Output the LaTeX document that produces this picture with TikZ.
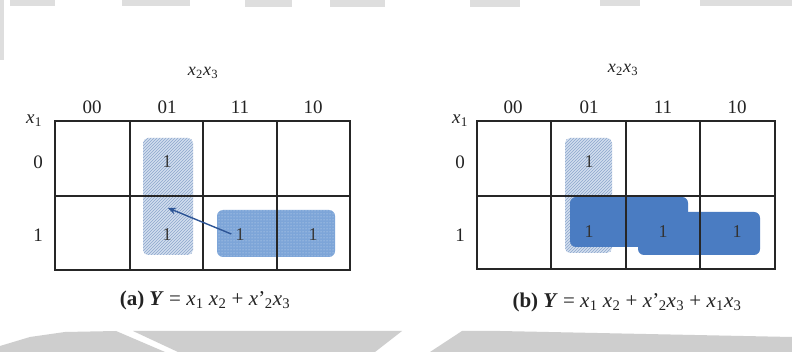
\documentclass[tikz,border=0pt]{standalone}
\usepackage{fontspec}
\setmainfont{Liberation Serif}
\usetikzlibrary{patterns,arrows.meta}
\definecolor{hatchbg}{RGB}{210,222,238}
\definecolor{hatchln}{RGB}{140,166,205}
\definecolor{midblue}{RGB}{125,165,216}
\definecolor{darkblue}{RGB}{74,124,194}
\definecolor{arrowblue}{RGB}{45,85,150}
\definecolor{txt}{RGB}{35,35,35}
\definecolor{wm}{RGB}{206,206,206}
\definecolor{wmtop}{RGB}{222,222,222}
\newcommand{\kx}[1]{\textit{x}\kern0.3pt\textsubscript{#1}}
\newcommand{\kxp}[1]{\textit{x}\kern0.3pt’\kern-0.5pt\textsubscript{#1}}
\tikzset{
  hatchgrp/.style={rounded corners=5pt, fill=hatchbg},
  midgrp/.style={rounded corners=6pt, fill=midblue},
  darkgrp/.style={rounded corners=6pt, fill=darkblue},
  gridline/.style={draw=black!85, line width=1.7pt},
  frame/.style={draw=black!85, line width=2.4pt},
  lbl/.style={font=\fontsize{19}{21}\selectfont, text=txt, inner sep=0pt},
  headlbl/.style={font=\fontsize{18}{20}\selectfont, text=txt, inner sep=0pt},
  one/.style={font=\fontsize{18}{20}\selectfont, text=black!78, inner sep=0pt},
  captext/.style={font=\fontsize{21}{23}\selectfont, text=txt, inner sep=0pt},
}
\begin{document}
\begin{tikzpicture}[x=1pt,y=-1pt]
\useasboundingbox (0,0) rectangle (792,352);
\fill[white] (0,0) rectangle (792,352);

% ---------- faint watermark ----------
\fill[wm] (0,352) -- (0,346) -- (30,337) -- (65,332) -- (116,331) -- (165,352) -- cycle;
\fill[wm] (133,331) -- (402,331) -- (375,352) -- (178,352) -- cycle;
\fill[wm] (462,331) -- (500,331) -- (792,337) -- (792,352) -- (430,352) -- cycle;
\fill[wmtop] (0,0) rectangle (4,60);
\fill[wmtop] (10,0) rectangle (55,6);
\fill[wmtop] (122,0) rectangle (190,6);
\fill[wmtop] (245,0) rectangle (292,7);
\fill[wmtop] (330,0) rectangle (385,7);
\fill[wmtop] (470,0) rectangle (520,7);
\fill[wmtop] (600,0) rectangle (640,6);
\fill[wmtop] (700,0) rectangle (792,6);

% ---------- panel (a) ----------
\fill[hatchgrp] (143,138) rectangle (193,255);
\fill[pattern=north east lines, pattern color=hatchln, rounded corners=5pt] (143,138) rectangle (193,255);
\fill[midgrp] (217,210) rectangle (335,257);
\fill[pattern=dots, pattern color=white!65!midblue, rounded corners=6pt] (217,210) rectangle (335,257);

\draw[gridline] (55,196) -- (350,196);
\foreach \x in {130,203,277} \draw[gridline] (\x,121) -- (\x,270);
\draw[frame] (55,121) rectangle (350,270);

\node[lbl] (a00) at (92,107) {00};
\node[lbl] (a01) at (167,107) {01};
\node[lbl] (a11) at (240,107) {11};
\node[lbl] (a10) at (313,107) {10};
\node[headlbl] (ahead) at (203,73) {\kx{2}\kx{3}};
\node[lbl] (ax1) at (34,121) {\kx{1}};
\node[lbl] (ar0) at (38,162) {0};
\node[lbl] (ar1) at (38,235) {1};

\node[one] (aA) at (167,162) {1};
\node[one] (aB) at (167,235) {1};
\node[one] (aC) at (240,235) {1};
\node[one] (aD) at (313,235) {1};

\coordinate (atip) at (168,208);
\draw[arrowblue, line width=1.4pt, -{Stealth[length=8pt,width=7pt]}] ([xshift=-4pt,yshift=1pt]aC.west) -- (atip);

\node[captext] (acap) at (205,300) {\textbf{(a)} \textbf{\textit{Y}} = \kx{1} \kx{2} + \kxp{2}\kx{3}};

% ---------- panel (b) ----------
\fill[hatchgrp] (565,138) rectangle (612,253);
\fill[pattern=north east lines, pattern color=hatchln, rounded corners=5pt] (565,138) rectangle (612,253);
\fill[darkgrp] (638,212) rectangle (760,255);
\fill[darkgrp] (570,197) rectangle (688,247);

\draw[gridline] (477,196) -- (775,196);
\foreach \x in {551,626,700} \draw[gridline] (\x,121) -- (\x,269);
\draw[frame] (477,121) rectangle (775,269);

\node[lbl] (b00) at (513,107) {00};
\node[lbl] (b01) at (589,107) {01};
\node[lbl] (b11) at (663,107) {11};
\node[lbl] (b10) at (737,107) {10};
\node[headlbl] (bhead) at (623,70) {\kx{2}\kx{3}};
\node[lbl] (bx1) at (460,121) {\kx{1}};
\node[lbl] (br0) at (460,162) {0};
\node[lbl] (br1) at (460,235) {1};

\node[one] (bA) at (589,162) {1};
\node[one, text=black!80] (bB) at (589,232) {1};
\node[one, text=black!80] (bC) at (663,232) {1};
\node[one, text=black!80] (bD) at (737,232) {1};

\node[captext] (bcap) at (627,302) {\textbf{(b)} \textbf{\textit{Y}} = \kx{1} \kx{2} + \kxp{2}\kx{3} + \kx{1}\kx{3}};
\end{tikzpicture}
\end{document}
